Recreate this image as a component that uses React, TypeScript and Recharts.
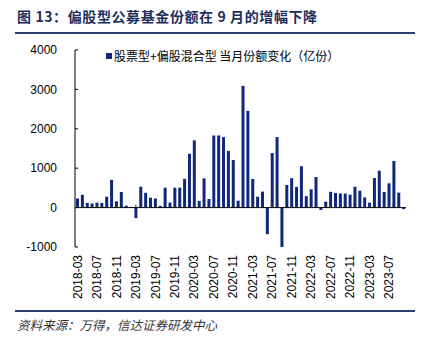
import React from 'react';
import { BarChart, Bar, XAxis, YAxis, ReferenceLine } from 'recharts';

const months: string[] = [
  '2018-03','2018-04','2018-05','2018-06','2018-07','2018-08','2018-09','2018-10','2018-11','2018-12',
  '2019-01','2019-02','2019-03','2019-04','2019-05','2019-06','2019-07','2019-08','2019-09','2019-10','2019-11','2019-12',
  '2020-01','2020-02','2020-03','2020-04','2020-05','2020-06','2020-07','2020-08','2020-09','2020-10','2020-11','2020-12',
  '2021-01','2021-02','2021-03','2021-04','2021-05','2021-06','2021-07','2021-08','2021-09','2021-10','2021-11','2021-12',
  '2022-01','2022-02','2022-03','2022-04','2022-05','2022-06','2022-07','2022-08','2022-09','2022-10','2022-11','2022-12',
  '2023-01','2023-02','2023-03','2023-04','2023-05','2023-06','2023-07','2023-08','2023-09','2023-10',
];

const shareChange: number[] = [
  230, 325, 118, 105, 125, 118, 278, 705, 160, 397,
  50, 20, -266, 530, 375, 253, 232, 45, 506, 127, 506, 506,
  730, 1367, 1705, 169, 743, 219, 1831, 1831, 1789, 1440, 1207, 175,
  3089, 2456, 726, 275, 405, -675, 1384, 1789, -1000, 574, 747, 523,
  1050, 290, 464, 776, -60, 152, 400, 371, 358, 358, 329, 528,
  430, 258, 125, 751, 937, 397, 616, 1185, 380, -40,
];

const xTicks: string[] = [
  '2018-03','2018-07','2018-11','2019-03','2019-07','2019-11','2020-03','2020-07','2020-11',
  '2021-03','2021-07','2021-11','2022-03','2022-07','2022-11','2023-03','2023-07',
];

const yTicks: number[] = [-1000, 0, 1000, 2000, 3000, 4000];

const titleText = '图 13：偏股型公募基金份额在 9 月的增幅下降';
const seriesName = '股票型+偏股混合型 当月份额变化（亿份）';
const sourceText = '资料来源：万得，信达证券研发中心';

const data = months.map((m, i) => ({ month: m, value: shareChange[i] }));

const NAVY = '#10287a';
const HEAD = '#1c2f5e';
const LATIN = '"Liberation Sans", Arial, sans-serif';
const CJK = '"Noto Sans CJK SC", sans-serif';

const YTick = (props: any) => {
  const { x, y, payload } = props;
  return (
    <g>
      <text x={x} y={y} dy="0.35em" textAnchor="end" fontSize={12} fontFamily={LATIN} fill="#000">
        {payload.value}
      </text>
      <line x1={x + 18} x2={x + 21} y1={y} y2={y} stroke="#000" strokeWidth={1} />
    </g>
  );
};

const XTick = (props: any) => {
  const { x, y, payload } = props;
  return (
    <g transform={`translate(${x},${y})`}>
      <text transform="rotate(-90)" textAnchor="end" dy="0.35em" fontSize={12} fontFamily={LATIN} fill="#000">
        {payload.value}
      </text>
    </g>
  );
};

export default function App() {
  return (
    <div style={{ position: 'absolute', left: 0, top: 0, width: 422, height: 346, background: '#fff', overflow: 'hidden' }}>
      <div style={{ position: 'absolute', left: 17, top: 6, fontFamily: CJK, fontWeight: 700, fontSize: 14, color: HEAD, whiteSpace: 'nowrap', letterSpacing: 0.6, lineHeight: '20px' }}>
        {titleText}
      </div>
      <div style={{ position: 'absolute', left: 15, top: 32, width: 400, height: 2, background: '#2b4170' }} />
      <BarChart
        width={422}
        height={346}
        data={data}
        margin={{ top: 50, right: 16, left: 15, bottom: 39 }}
        barCategoryGap={1}
      >
        <YAxis
          type="number"
          domain={[-1000, 4000]}
          ticks={yTicks}
          interval={0}
          width={60}
          tickSize={0}
          tickMargin={18}
          axisLine={{ stroke: '#000', strokeWidth: 1 }}
          tick={<YTick />}
        />
        <XAxis
          dataKey="month"
          ticks={xTicks}
          interval={0}
          height={60}
          tickSize={0}
          tickMargin={8}
          axisLine={false}
          tick={<XTick />}
        />
        <ReferenceLine y={0} stroke="#000" strokeWidth={1} ifOverflow="extendDomain" />
        {xTicks.map((t) => (
          <ReferenceLine
            key={t}
            segment={[{ x: t, y: 0 }, { x: t, y: 80 }]}
            stroke="#333"
            strokeWidth={1}
          />
        ))}
        <Bar dataKey="value" fill={NAVY} barSize={3} isAnimationActive={false} />
      </BarChart>
      <div style={{ position: 'absolute', left: 106, top: 53, width: 6, height: 6, background: NAVY }} />
      <div style={{ position: 'absolute', left: 114, top: 48, fontFamily: CJK, fontSize: 12, color: '#000', whiteSpace: 'nowrap', lineHeight: '16px' }}>
        {seriesName}
      </div>
      <div style={{ position: 'absolute', left: 15, top: 310, width: 400, height: 2, background: '#2b4170' }} />
      <div style={{ position: 'absolute', left: 17, top: 317, fontFamily: CJK, fontStyle: 'italic', fontSize: 12.5, color: '#333', whiteSpace: 'nowrap', lineHeight: '16px' }}>
        {sourceText}
      </div>
    </div>
  );
}
